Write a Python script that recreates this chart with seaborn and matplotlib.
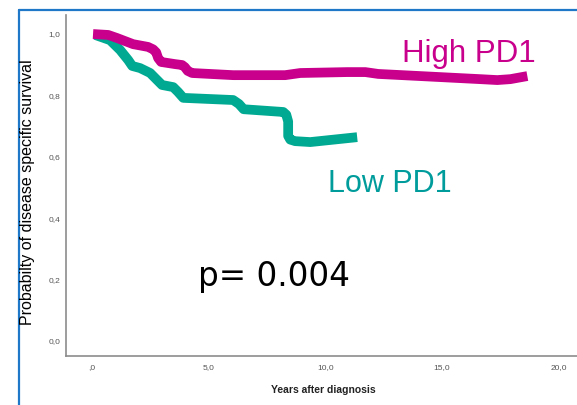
import matplotlib
matplotlib.use("Agg")
import matplotlib.pyplot as plt
from matplotlib.lines import Line2D
import seaborn as sns
import pandas as pd

# ---- data ----
high_years = [0.04, 0.69, 1.07, 1.76, 2.40, 2.62, 2.75, 2.83, 2.96, 3.56, 3.86, 3.98, 4.10, 4.29,
              6.05, 8.28, 8.93, 10.94, 11.72, 12.27, 14.08, 16.65, 17.38, 17.94, 18.67]
high_surv = [1.000, 0.997, 0.987, 0.967, 0.958, 0.950, 0.940, 0.922, 0.909, 0.902, 0.899, 0.892, 0.880, 0.873,
             0.866, 0.866, 0.873, 0.876, 0.876, 0.870, 0.863, 0.853, 0.850, 0.853, 0.863]
low_years = [0.13, 0.77, 1.20, 1.55, 1.72, 2.06, 2.49, 2.79, 3.00, 3.48, 3.69, 3.91,
             6.05, 6.30, 6.50, 8.20, 8.33, 8.41, 8.41, 8.50, 8.71, 9.36, 11.37]
low_surv = [0.997, 0.980, 0.948, 0.915, 0.896, 0.889, 0.873, 0.850, 0.834, 0.827, 0.811, 0.792,
            0.785, 0.772, 0.755, 0.746, 0.737, 0.715, 0.668, 0.656, 0.651, 0.648, 0.664]
x_ticks = [0, 5, 10, 15, 20]
x_tick_labels = [",0", "5,0", "10,0", "15,0", "20,0"]
y_ticks = [0.0, 0.2, 0.4, 0.6, 0.8, 1.0]
y_tick_labels = ["0,0", "0,2", "0,4", "0,6", "0,8", "1,0"]
series_names = ["High PD1", "Low PD1"]
p_text = "p= 0.004"
x_label = "Years after diagnosis"
y_label = "Probabilty of disease specific survival"

MAGENTA = "#C8008C"
TEAL_LINE = "#00A991"
TEAL_TEXT = "#009C9C"

sns.set_theme(style="white")
plt.rcParams['font.family'] = ['Liberation Sans', 'DejaVu Sans']

fig = plt.figure(figsize=(5.77, 4.05), dpi=100)
W, H = 577, 405
ax = fig.add_axes([66 / W, 1 - 356 / H, (577 - 66) / W, (356 - 15) / H])

df_low = pd.DataFrame({"years": low_years, "surv": low_surv})
df_high = pd.DataFrame({"years": high_years, "surv": high_surv})
sns.lineplot(data=df_low, x="years", y="surv", ax=ax, color=TEAL_LINE, linewidth=7,
             sort=False, estimator=None, solid_joinstyle="round", solid_capstyle="butt")
sns.lineplot(data=df_high, x="years", y="surv", ax=ax, color=MAGENTA, linewidth=7,
             sort=False, estimator=None, solid_joinstyle="round", solid_capstyle="butt")

ax.set_xlim(-1.12, 20.8)
ax.set_ylim(-0.049, 1.062)
ax.set_xticks(x_ticks)
ax.set_xticklabels(x_tick_labels)
ax.set_yticks(y_ticks)
ax.set_yticklabels(y_tick_labels)
ax.tick_params(axis="x", length=0, labelsize=6, colors="#555555", pad=5.5)
ax.tick_params(axis="y", length=0, labelsize=6, colors="#555555", pad=4)
ax.set_xlabel("")
ax.set_ylabel("")
for s in ["top", "right"]:
    ax.spines[s].set_visible(False)
for s in ["left", "bottom"]:
    ax.spines[s].set_color("#8C8C8C")
    ax.spines[s].set_linewidth(1.2)
ax.grid(False)

# axis labels
fig.text(28 / W, 1 - 192 / H, y_label, rotation=90, ha="center", va="center",
         fontsize=11.5, color="black")
fig.text(323 / W, 1 - 390 / H, x_label, ha="center", va="center",
         fontsize=7.5, fontweight="bold", color="#222222")

# annotations
fig.text(402 / W, 1 - 62 / H, series_names[0], ha="left", va="baseline",
         fontsize=22.5, color=MAGENTA)
fig.text(328 / W, 1 - 192 / H, series_names[1], ha="left", va="baseline",
         fontsize=22, color=TEAL_TEXT)
fig.text(198 / W, 1 - 286 / H, p_text, ha="left", va="baseline",
         fontsize=23.5, color="black", family=["DejaVu Sans"])

# blue frame (top and left)
fig.add_artist(Line2D([19 / W, 1.0], [1 - 10 / H, 1 - 10 / H], color="#1F78C8", linewidth=1.6,
                      transform=fig.transFigure))
fig.add_artist(Line2D([19 / W, 19 / W], [1 - 10 / H, 0.0], color="#1F78C8", linewidth=1.6,
                      transform=fig.transFigure))

fig.savefig("out.png", dpi=100)
